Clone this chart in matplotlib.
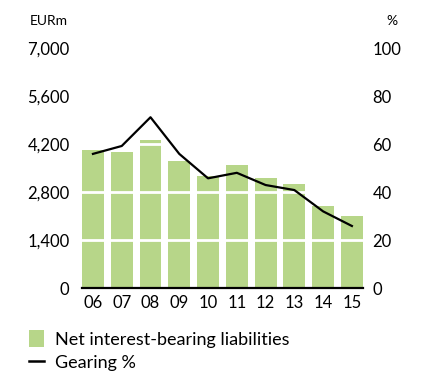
import matplotlib.pyplot as plt
from matplotlib.patches import Patch
from matplotlib.lines import Line2D

years = ["06", "07", "08", "09", "10", "11", "12", "13", "14", "15"]
liabilities = [4030, 3970, 4320, 3710, 3270, 3600, 3210, 3040, 2390, 2100]
gearing = [56, 59.3, 71.3, 56, 45.8, 48.1, 43, 40.9, 32, 25.9]

left_ticks = [0, 1400, 2800, 4200, 5600, 7000]
right_ticks = [0, 20, 40, 60, 80, 100]

green = "#b7d689"
plt.rcParams["font.family"] = ["Lato", "DejaVu Sans"]

fig = plt.figure(figsize=(4.34, 3.76), dpi=100)
ax = fig.add_axes([0.189, 0.234, 0.647, 0.637])
ax2 = ax.twinx()

x = list(range(len(years)))
ax.bar(x, liabilities, width=0.76, color=green, zorder=1)
for t in left_ticks[1:]:
    ax.axhline(t, color="white", lw=2.0, zorder=2)

ax.set_xlim(-0.38, len(years) - 1 + 0.38)
ax.set_ylim(0, 7000)
ax.set_yticks(left_ticks)
ax.set_yticklabels([f"{t:,}" for t in left_ticks], fontsize=12)
ax.set_xticks(x)
ax.set_xticklabels(years, fontsize=12)
ax.tick_params(length=0, pad=5)
ax.tick_params(axis="y", pad=9)

ax2.plot(x, gearing, color="black", lw=1.6, zorder=5)
ax2.set_ylim(0, 100)
ax2.set_yticks(right_ticks)
ax2.set_yticklabels([str(t) for t in right_ticks], fontsize=12)
ax2.tick_params(length=0, pad=7)

for a in (ax, ax2):
    for side in ("left", "right", "top", "bottom"):
        a.spines[side].set_visible(False)
ax.axhline(0, color="black", lw=1.6, zorder=6, clip_on=False)

fig.text(0.069, 0.945, "EURm", fontsize=10, va="center")
fig.text(0.915, 0.945, "%", fontsize=10, va="center", ha="right")

handles = [Patch(facecolor=green, edgecolor="none"),
           Line2D([0], [0], color="black", lw=1.8)]
fig.legend(handles, ["Net interest-bearing liabilities", "Gearing %"],
           loc="upper left", bbox_to_anchor=(0.066, 0.122), frameon=False,
           fontsize=13, handlelength=0.85, handleheight=1.1,
           handletextpad=0.6, labelspacing=0.3, borderaxespad=0, borderpad=0)

fig.savefig("out.png", dpi=100)
